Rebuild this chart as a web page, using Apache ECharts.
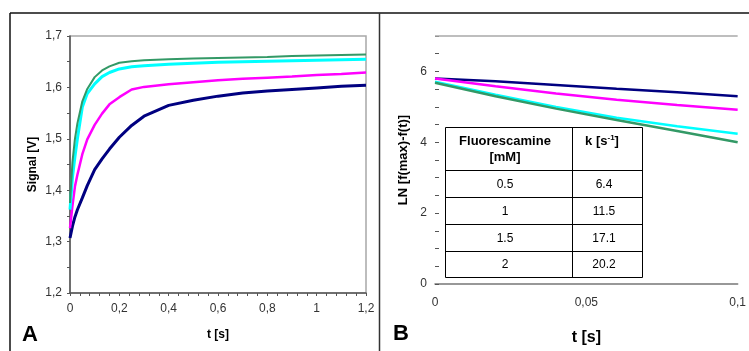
<!DOCTYPE html>
<html>
<head>
<meta charset="utf-8">
<script src="https://cdn.jsdelivr.net/npm/echarts@6/dist/echarts.min.js"></script>
<style>
html,body{margin:0;padding:0;background:#fff;}
#chart{width:749px;height:351px;}
</style>
</head>
<body>
<div id="chart"></div>
<script>
// ---- Panel A data (time in s, signal in V) ----
const tLeft = [0, 0.01, 0.02, 0.03, 0.05, 0.07, 0.1, 0.13, 0.16, 0.2, 0.25, 0.3, 0.4, 0.5, 0.6, 0.7, 0.8, 0.9, 1.0, 1.1, 1.2];
const navyLeft    = [1.307, 1.330, 1.348, 1.362, 1.385, 1.409, 1.440, 1.461, 1.480, 1.503, 1.526, 1.544, 1.565, 1.575, 1.583, 1.589, 1.593, 1.596, 1.599, 1.602, 1.604];
const magentaLeft = [1.326, 1.370, 1.407, 1.430, 1.470, 1.499, 1.527, 1.549, 1.567, 1.581, 1.596, 1.601, 1.606, 1.610, 1.614, 1.617, 1.619, 1.621, 1.624, 1.626, 1.629];
const cyanLeft    = [1.362, 1.425, 1.465, 1.500, 1.562, 1.588, 1.607, 1.621, 1.629, 1.636, 1.640, 1.642, 1.645, 1.647, 1.649, 1.650, 1.651, 1.652, 1.653, 1.654, 1.655];
const greenLeft   = [1.375, 1.455, 1.500, 1.530, 1.573, 1.597, 1.620, 1.633, 1.641, 1.648, 1.651, 1.653, 1.655, 1.656, 1.657, 1.658, 1.659, 1.661, 1.662, 1.663, 1.664];

// ---- Panel B data (time in s, LN[f(max)-f(t)]) ----
const tRight = [0, 0.02, 0.04, 0.06, 0.08, 0.1];
const navyRight    = [5.80, 5.72, 5.62, 5.51, 5.41, 5.30];
const magentaRight = [5.80, 5.58, 5.38, 5.20, 5.05, 4.92];
const cyanRight    = [5.71, 5.34, 5.00, 4.69, 4.45, 4.24];
const greenRight   = [5.68, 5.30, 4.95, 4.63, 4.32, 4.00];

// ---- Table ----
const tableHeader = ['Fluorescamine\n[mM]', 'k [s{sup|-1}]'];
const concentrations = ['0.5', '1', '1.5', '2'];
const kValues = ['6.4', '11.5', '17.1', '20.2'];

// ---- Tick labels ----
const leftYMax = 1.7, leftYMin = 1.2;
const rightYTickLabels = [0, 2, 4, 6];

const COLORS = { navy: '#000080', magenta: '#ff00ff', cyan: '#00ffff', green: '#339966' };
const FONT = '"Liberation Sans", Arial, sans-serif';

function comma(v) { return String(+v.toFixed(2)).replace('.', ','); }
function pairs(ts, vs) { return ts.map((t, i) => [t, vs[i]]); }

// ---- Table graphics ----
const tbl = { left: 445, mid: 572, right: 642, rows: [127, 170, 197, 224, 251, 277] };
const tableEls = [];
tableEls.push({ type: 'rect', shape: { x: tbl.left + 0.5, y: tbl.rows[0] + 0.5, width: tbl.right - tbl.left, height: tbl.rows[5] - tbl.rows[0] },
  style: { fill: '#fff', stroke: '#000', lineWidth: 1 }, z: 50 });
tableEls.push({ type: 'line', shape: { x1: tbl.mid + 0.5, y1: tbl.rows[0], x2: tbl.mid + 0.5, y2: tbl.rows[5] }, style: { stroke: '#000', lineWidth: 1 }, z: 51 });
for (let r = 1; r < 5; r++) {
  tableEls.push({ type: 'line', shape: { x1: tbl.left, y1: tbl.rows[r] + 0.5, x2: tbl.right, y2: tbl.rows[r] + 0.5 }, style: { stroke: '#000', lineWidth: 1 }, z: 51 });
}
tableEls.push({ type: 'text', x: 505, y: 149, z: 52,
  style: { text: tableHeader[0], font: 'bold 13px ' + FONT, fill: '#000', align: 'center', verticalAlign: 'middle', lineHeight: 16 } });
tableEls.push({ type: 'text', x: 602, y: 141, z: 52,
  style: { text: tableHeader[1], font: 'bold 13px ' + FONT, fill: '#000', align: 'center', verticalAlign: 'middle',
    rich: { sup: { fontSize: 8, fontWeight: 'bold', fontFamily: FONT, verticalAlign: 'top', lineHeight: 14, padding: [0, 0, 6, 0] } } } });
for (let i = 0; i < concentrations.length; i++) {
  const cy = (tbl.rows[i + 1] + tbl.rows[i + 2]) / 2 + 1;
  tableEls.push({ type: 'text', x: 505, y: cy, z: 52, style: { text: concentrations[i], font: '12px ' + FONT, fill: '#000', align: 'center', verticalAlign: 'middle' } });
  tableEls.push({ type: 'text', x: 604, y: cy, z: 52, style: { text: kValues[i], font: '12px ' + FONT, fill: '#000', align: 'center', verticalAlign: 'middle' } });
}

const frameEls = [
  { type: 'line', shape: { x1: 10, y1: 13, x2: 749, y2: 13 }, style: { stroke: '#111', lineWidth: 1.5 } },
  { type: 'line', shape: { x1: 10, y1: 13, x2: 10, y2: 351 }, style: { stroke: '#111', lineWidth: 1.5 } },
  { type: 'line', shape: { x1: 379.5, y1: 13, x2: 379.5, y2: 351 }, style: { stroke: '#333', lineWidth: 1.5 } },
  { type: 'text', x: 30, y: 335, style: { text: 'A', font: 'bold 22px ' + FONT, fill: '#000', align: 'center', verticalAlign: 'middle' } },
  { type: 'text', x: 401, y: 334, style: { text: 'B', font: 'bold 22px ' + FONT, fill: '#000', align: 'center', verticalAlign: 'middle' } }
];

const chart = echarts.init(document.getElementById('chart'), null, { renderer: 'canvas' });
const option = {
  animation: false,
  backgroundColor: '#fff',
  textStyle: { fontFamily: FONT },
  grid: [
    { left: 70, top: 36, width: 296, height: 257, show: true, borderColor: '#a8a8a8', borderWidth: 1.5, backgroundColor: 'transparent' },
    { left: 435, top: 36, width: 306, height: 248 }
  ],
  xAxis: [
    { gridIndex: 0, type: 'value', min: 0, max: 1.2, interval: 0.2,
      name: 't [s]', nameLocation: 'middle', nameGap: 36,
      nameTextStyle: { fontWeight: 'bold', fontSize: 12, color: '#000', fontFamily: FONT },
      axisLine: { show: true, onZero: false, lineStyle: { color: '#555', width: 1.5 } },
      axisTick: { show: true, length: 3, lineStyle: { color: '#555' } },
      minorTick: { show: true, splitNumber: 5, length: 3, lineStyle: { color: '#555' } },
      splitLine: { show: false },
      axisLabel: { formatter: comma, fontSize: 12, color: '#333', margin: 10, fontFamily: FONT } },
    { gridIndex: 1, type: 'value', min: 0, max: 0.1, interval: 0.05,
      name: 't [s]', nameLocation: 'middle', nameGap: 46,
      nameTextStyle: { fontWeight: 'bold', fontSize: 16, color: '#000', fontFamily: FONT },
      axisLine: { show: true, onZero: false, lineStyle: { color: '#777', width: 1.5 } },
      axisTick: { show: false },
      splitLine: { show: false },
      axisLabel: { formatter: comma, fontSize: 12, color: '#333', margin: 13, fontFamily: FONT } }
  ],
  yAxis: [
    { gridIndex: 0, type: 'value', min: leftYMin, max: leftYMax, interval: 0.1,
      name: 'Signal [V]', nameLocation: 'middle', nameGap: 31,
      nameTextStyle: { fontWeight: 'bold', fontSize: 12, color: '#000', fontFamily: FONT },
      axisLine: { show: true, onZero: false, lineStyle: { color: '#555', width: 1.5 } },
      axisTick: { show: true, length: 3, lineStyle: { color: '#555' } },
      minorTick: { show: true, splitNumber: 2, length: 3, lineStyle: { color: '#555' } },
      splitLine: { show: false },
      axisLabel: { formatter: v => v.toFixed(1).replace('.', ','), fontSize: 12, color: '#333', margin: 8, fontFamily: FONT } },
    { gridIndex: 1, type: 'value', min: 0, max: 7, interval: 0.5,
      name: 'LN [f(max)-f(t)]', nameLocation: 'middle', nameGap: 25,
      nameTextStyle: { fontWeight: 'bold', fontSize: 13, color: '#000', fontFamily: FONT },
      axisLine: { show: false },
      axisTick: { show: true, inside: true, length: 4, lineStyle: { color: '#555' } },
      splitLine: { show: false },
      axisLabel: { formatter: v => (rightYTickLabels.indexOf(v) >= 0 ? String(v) : ''), fontSize: 12, color: '#333', margin: 8, fontFamily: FONT } }
  ],
  series: [
    { type: 'line', xAxisIndex: 0, yAxisIndex: 0, data: pairs(tLeft, navyLeft), showSymbol: false, lineStyle: { color: COLORS.navy, width: 3 }, itemStyle: { color: COLORS.navy }, z: 3 },
    { type: 'line', xAxisIndex: 0, yAxisIndex: 0, data: pairs(tLeft, magentaLeft), showSymbol: false, lineStyle: { color: COLORS.magenta, width: 2.5 }, itemStyle: { color: COLORS.magenta }, z: 3 },
    { type: 'line', xAxisIndex: 0, yAxisIndex: 0, data: pairs(tLeft, cyanLeft), showSymbol: false, lineStyle: { color: COLORS.cyan, width: 3 }, itemStyle: { color: COLORS.cyan }, z: 3 },
    { type: 'line', xAxisIndex: 0, yAxisIndex: 0, data: pairs(tLeft, greenLeft), showSymbol: false, lineStyle: { color: COLORS.green, width: 2 }, itemStyle: { color: COLORS.green }, z: 3 },
    { type: 'line', xAxisIndex: 1, yAxisIndex: 1, data: pairs(tRight, navyRight), showSymbol: false, lineStyle: { color: COLORS.navy, width: 2.5 }, itemStyle: { color: COLORS.navy }, z: 3,
      markLine: { silent: true, symbol: 'none', label: { show: false }, lineStyle: { color: '#a8a8a8', width: 1.5, type: 'solid' }, data: [{ yAxis: 7 }] } },
    { type: 'line', xAxisIndex: 1, yAxisIndex: 1, data: pairs(tRight, magentaRight), showSymbol: false, lineStyle: { color: COLORS.magenta, width: 2.5 }, itemStyle: { color: COLORS.magenta }, z: 3 },
    { type: 'line', xAxisIndex: 1, yAxisIndex: 1, data: pairs(tRight, cyanRight), showSymbol: false, lineStyle: { color: COLORS.cyan, width: 2.5 }, itemStyle: { color: COLORS.cyan }, z: 3 },
    { type: 'line', xAxisIndex: 1, yAxisIndex: 1, data: pairs(tRight, greenRight), showSymbol: false, lineStyle: { color: COLORS.green, width: 2.5 }, itemStyle: { color: COLORS.green }, z: 3 }
  ],
  graphic: frameEls.concat(tableEls)
};
chart.setOption(option);
</script>
</body>
</html>
